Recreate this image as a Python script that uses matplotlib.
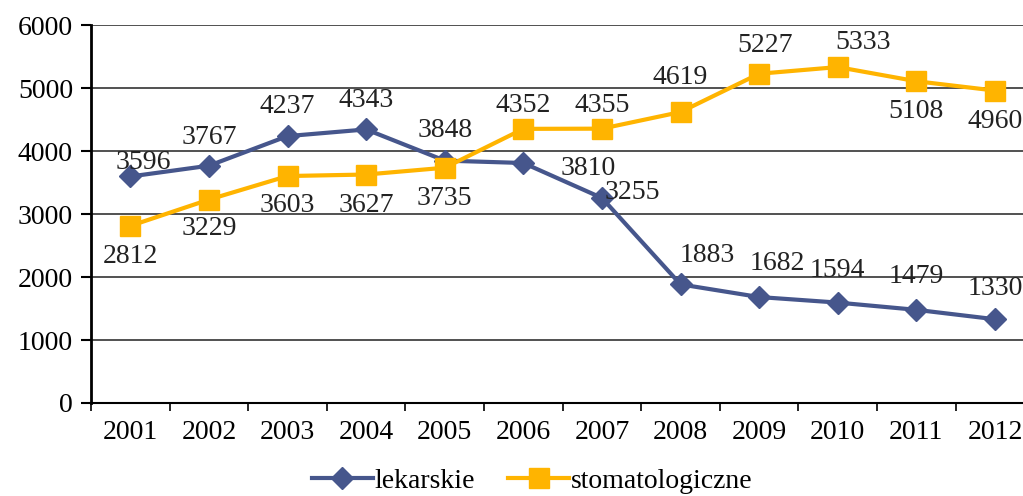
import matplotlib.pyplot as plt

years = ['2001', '2002', '2003', '2004', '2005', '2006',
         '2007', '2008', '2009', '2010', '2011', '2012']
lekarskie = [3596, 3767, 4237, 4343, 3848, 3810, 3255, 1883, 1682, 1594, 1479, 1330]
stomatologiczne = [2812, 3229, 3603, 3627, 3735, 4352, 4355, 4619, 5227, 5333, 5108, 4960]

# label offsets in points (dx, dy)
lek_off = [(9, 10), (0, 20), (0, 21), (0, 21), (0, 22), (47, -4),
           (22, 4), (19, 21), (13, 24), (0, 23), (0, 24), (0, 22)]
stom_off = [(0, -22), (0, -21), (0, -21), (0, -22), (0, -22), (0, 17),
            (0, 17), (0, 25), (4, 20), (18, 18), (0, -22), (0, -22)]

blue = '#46568C'
gold = '#FFB400'
fs = 20

plt.rcParams['font.family'] = ['Liberation Serif', 'DejaVu Serif']

fig = plt.figure(figsize=(10.23, 4.96), dpi=100)
ax = fig.add_axes([0.089, 0.1875, 0.922, 0.762])

x = list(range(len(years)))
ax.plot(x, lekarskie, color=blue, lw=3, marker='D', ms=11, label='lekarskie', zorder=3)
ax.plot(x, stomatologiczne, color=gold, lw=3, marker='s', ms=14, label='stomatologiczne', zorder=3)

for i in x:
    ax.annotate(str(lekarskie[i]), (i, lekarskie[i]), xytext=lek_off[i], textcoords='offset points',
                ha='center', va='center', fontsize=fs, color='#222222', zorder=4)
    ax.annotate(str(stomatologiczne[i]), (i, stomatologiczne[i]), xytext=stom_off[i],
                textcoords='offset points', ha='center', va='center', fontsize=fs,
                color='#222222', zorder=4)

ax.set_xlim(-0.5, len(years) - 0.5)
ax.set_ylim(0, 6000)
ax.set_yticks(range(0, 6001, 1000))
ax.yaxis.grid(True, color='#333333', lw=1.2)
ax.set_axisbelow(True)

ax.set_xticks(x)
ax.set_xticklabels(years, fontsize=fs)
ax.set_xticks([i + 0.5 for i in range(-1, len(years))], minor=True)
ax.tick_params(axis='x', which='major', length=0, pad=12)
ax.tick_params(axis='x', which='minor', length=6, width=1.2, direction='out')
ax.tick_params(axis='y', labelsize=fs, length=7, width=1.5, pad=6)

for s in ['top', 'right']:
    ax.spines[s].set_visible(False)
ax.spines['left'].set_linewidth(2)
ax.spines['bottom'].set_linewidth(1.5)

fig.legend(loc='center', bbox_to_anchor=(0.52, 0.03), ncol=2, frameon=False,
           fontsize=fs, handlelength=2.2, columnspacing=1.2, handletextpad=0.05)

fig.savefig('out.png', dpi=100)
